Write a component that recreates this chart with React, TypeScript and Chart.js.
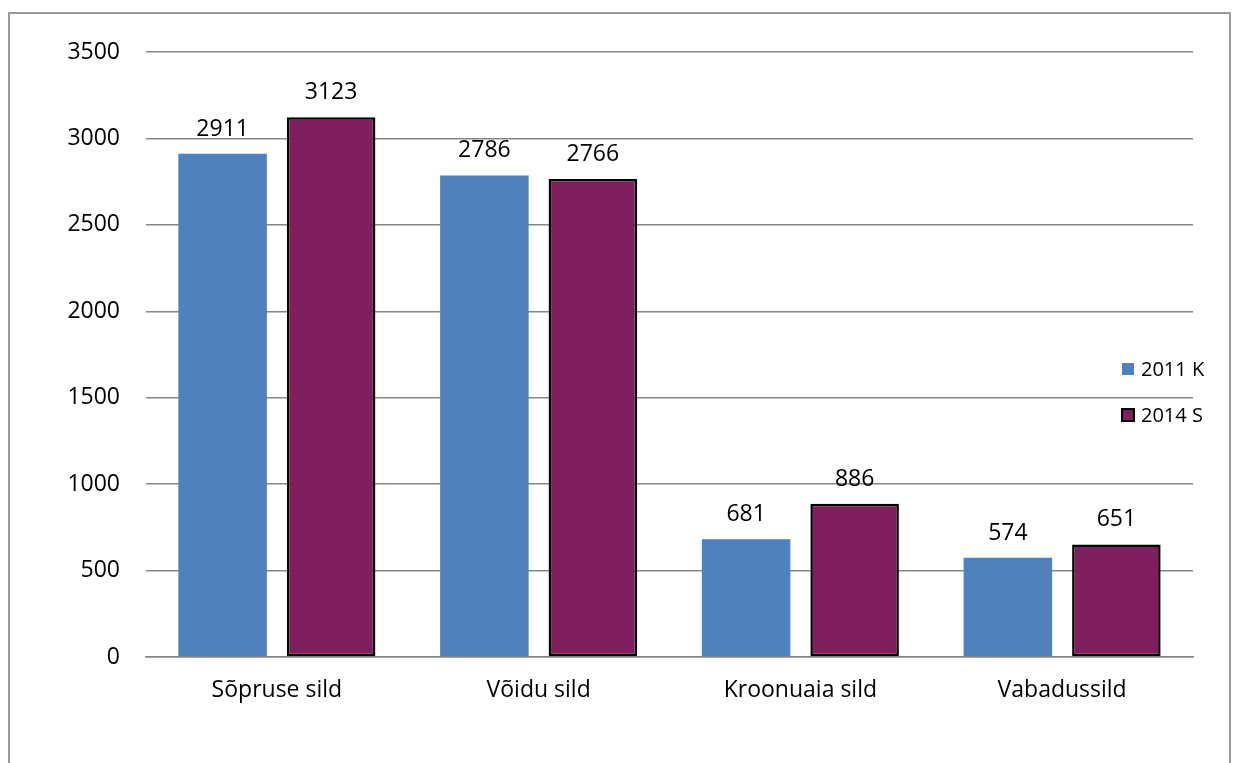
import React, { useEffect, useRef } from "react";
import { Chart, registerables } from "chart.js";

Chart.register(...registerables);

const categories = ["Sõpruse sild", "Võidu sild", "Kroonuaia sild", "Vabadussild"];
const series2011 = [2911, 2786, 681, 574];
const series2014 = [3123, 2766, 886, 651];
const seriesNames = ["2011 K", "2014 S"];
const yTicks = { min: 0, max: 3500, step: 500 };

const BLUE = "#4F81BD";
const PURPLE = "#7F1F5E";
const FONT = "'Open Sans', 'DejaVu Sans', sans-serif";

const valueLabels = {
  id: "valueLabels",
  afterDatasetsDraw(chart: any) {
    const ctx = chart.ctx;
    ctx.save();
    ctx.font = `23px ${FONT}`;
    ctx.fillStyle = "#000";
    ctx.textAlign = "center";
    ctx.textBaseline = "alphabetic";
    chart.data.datasets.forEach((ds: any, i: number) => {
      const meta = chart.getDatasetMeta(i);
      meta.data.forEach((bar: any, j: number) => {
        ctx.fillText(String(ds.data[j]), bar.x, bar.y - 18);
      });
    });
    ctx.restore();
  },
};

const sideLegend = {
  id: "sideLegend",
  afterDraw(chart: any) {
    const ctx = chart.ctx;
    const area = chart.chartArea;
    const x = area.right - 71;
    const y0 = area.top + 317;
    ctx.save();
    ctx.font = `20px ${FONT}`;
    ctx.textBaseline = "middle";
    ctx.textAlign = "left";
    chart.data.datasets.forEach((ds: any, i: number) => {
      const cy = y0 + i * 46;
      ctx.fillStyle = ds.backgroundColor;
      ctx.fillRect(x, cy - 6, 12, 12);
      if (ds.borderWidth > 0) {
        ctx.strokeStyle = ds.borderColor;
        ctx.lineWidth = 2;
        ctx.strokeRect(x, cy - 6, 12, 12);
      }
      ctx.fillStyle = "#000";
      ctx.fillText(ds.label, x + 19, cy + 1);
    });
    ctx.restore();
  },
};

export default function App() {
  const ref = useRef<HTMLCanvasElement | null>(null);

  useEffect(() => {
    if (!ref.current) return;
    const chart = new Chart(ref.current, {
      type: "bar",
      data: {
        labels: categories,
        datasets: [
          {
            label: seriesNames[0],
            data: series2011,
            backgroundColor: BLUE,
            borderWidth: 0,
            borderColor: BLUE,
            categoryPercentage: 0.829,
            barPercentage: 0.816,
          },
          {
            label: seriesNames[1],
            data: series2014,
            backgroundColor: PURPLE,
            borderColor: "#000",
            borderWidth: 2.5,
            borderSkipped: false,
            categoryPercentage: 0.829,
            barPercentage: 0.816,
          },
        ],
      },
      options: {
        animation: false,
        responsive: false,
        layout: { padding: { left: 0, right: 42, top: 52, bottom: 0 } },
        plugins: {
          legend: { display: false },
          tooltip: { enabled: false },
        },
        scales: {
          x: {
            grid: { display: false, drawTicks: false },
            border: { display: true, color: "#868686", width: 1.5 },
            ticks: {
              color: "#000",
              font: { family: FONT, size: 23 },
              padding: 20,
            },
            afterFit(scale: any) {
              scale.height = 106;
            },
          },
          y: {
            min: yTicks.min,
            max: yTicks.max,
            grid: { color: "#868686", lineWidth: 1.5, drawTicks: false },
            border: { display: false },
            ticks: {
              stepSize: yTicks.step,
              color: "#000",
              font: { family: FONT, size: 23 },
              padding: 26,
              callback: (v: any) => String(v),
            },
            afterFit(scale: any) {
              scale.width = 146;
            },
          },
        },
      },
      plugins: [valueLabels, sideLegend],
    });
    return () => chart.destroy();
  }, []);

  return (
    <div
      style={{
        position: "absolute",
        left: 0,
        top: 0,
        width: 1235,
        height: 763,
        overflow: "hidden",
        background: "#fff",
      }}
    >
      <div
        style={{
          position: "absolute",
          left: 8,
          top: 12,
          width: 1223,
          height: 800,
          border: "2px solid #9a9a9a",
          boxSizing: "border-box",
        }}
      />
      <canvas
        ref={ref}
        width={1235}
        height={763}
        style={{ position: "absolute", left: 0, top: 0, width: 1235, height: 763 }}
      />
    </div>
  );
}
